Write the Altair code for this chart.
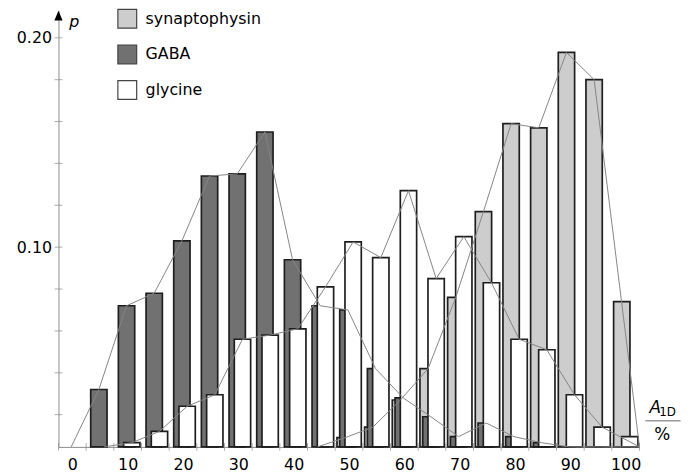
import altair as alt
import pandas as pd

# ---------------- data ----------------
BINS = list(range(5, 101, 5))
SERIES = ["synaptophysin", "GABA", "glycine"]
SYN = [0, 0, 0, 0, 0, 0, 0, 0, 0, 0.009, 0.014, 0.027, 0.042, 0.076, 0.117,
       0.159, 0.157, 0.193, 0.180, 0.074]
GABA = [0.032, 0.072, 0.078, 0.103, 0.134, 0.135, 0.155, 0.094, 0.072, 0.070,
        0.042, 0.028, 0.019, 0.0095, 0.016, 0.0095, 0.0066, 0, 0, 0]
GLY = [0, 0.0066, 0.012, 0.024, 0.0295, 0.056, 0.058, 0.061, 0.081, 0.1025,
       0.095, 0.127, 0.085, 0.105, 0.083, 0.056, 0.051, 0.0295, 0.014, 0.0095]
LINE_START = {"synaptophysin": 45, "GABA": 0, "glycine": 5}
LINE_LAST = 95
LINE_END_X = 102.5
X_LABELS = list(range(0, 101, 10))
Y_LABELS = [0.10, 0.20]
X_TICKS = [-2.5 + 5 * i for i in range(22)]
Y_TICKS = [0.02 * i for i in range(1, 11)]

# ---------------- layout / style constants ----------------
OFFSET = {"synaptophysin": -0.7, "GABA": -0.2, "glycine": 0.75}
BAR_W = 2.95
BASE = 0.0046          # value at which the x axis sits
Y_MAX = 0.2131
X_MIN, X_MAX = -2.5, 102.5
FILLS = ["#cdcdcd", "#717171", "#ffffff"]
FONT = "DejaVu Sans"
AXIS_COL = "#8a8a8a"

values = {"synaptophysin": SYN, "GABA": GABA, "glycine": GLY}

bar_rows = []
for rank, s in enumerate(SERIES):
    for b, v in zip(BINS, values[s]):
        if v > 0:
            c = b + OFFSET[s]
            bar_rows.append({"series": s, "rank": rank, "value": v,
                             "x1": c - BAR_W / 2, "x2": c + BAR_W / 2})
bars_df = pd.DataFrame(bar_rows)

line_rows = []
for s in SERIES:
    full = dict(zip([0] + BINS, [0] + values[s]))
    for b in range(LINE_START[s], LINE_LAST + 1, 5):
        v = full[b]
        line_rows.append({"series": s, "lx": b + OFFSET[s], "ly": v if v > 0 else BASE})
    line_rows.append({"series": s, "lx": LINE_END_X, "ly": BASE})
lines_df = pd.DataFrame(line_rows)

xs = alt.Scale(domain=[X_MIN, X_MAX], nice=False, zero=False)
ys = alt.Scale(domain=[BASE, Y_MAX], nice=False, zero=False)
xaxis = alt.Axis(values=X_LABELS, title=None, labelPadding=10, tickSize=0,
                 domainColor=AXIS_COL, labelFontSize=16, labelFont=FONT,
                 labelColor="black", grid=False, labelFlush=False)
yaxis = alt.Axis(values=Y_LABELS, format=".2f", title=None, labelPadding=7,
                 tickSize=0, domainColor=AXIS_COL, labelFontSize=16,
                 labelFont=FONT, labelColor="black", grid=False)

bars = alt.Chart(bars_df).mark_bar(stroke="#1e1e1e", strokeWidth=1.7, opacity=1).encode(
    x=alt.X("x1:Q", scale=xs, axis=xaxis),
    x2="x2:Q",
    y=alt.Y("value:Q", scale=ys, axis=yaxis, stack=None),
    y2=alt.datum(BASE),
    color=alt.Color("series:N", scale=alt.Scale(domain=SERIES, range=FILLS),
                    legend=alt.Legend(title=None, orient="none", legendX=59, legendY=-2,
                                      symbolType="square", symbolSize=361,
                                      symbolStrokeColor="#444", symbolStrokeWidth=1.2,
                                      labelFontSize=16, labelFont=FONT, labelOffset=8,
                                      rowPadding=11, padding=0, symbolOpacity=1)),
    order=alt.Order("rank:Q"),
)

lines = alt.Chart(lines_df).mark_line(color="#858585", strokeWidth=1).encode(
    x=alt.X("lx:Q", scale=xs, axis=xaxis),
    y=alt.Y("ly:Q", scale=ys, axis=yaxis),
    detail="series:N",
    order="lx:Q",
)

xt = alt.Chart(pd.DataFrame({"t": X_TICKS})).mark_tick(
    orient="vertical", size=8, thickness=1, color=AXIS_COL).encode(
    x=alt.X("t:Q", scale=xs, axis=xaxis), y=alt.datum(BASE))
yt = alt.Chart(pd.DataFrame({"t": Y_TICKS})).mark_tick(
    orient="horizontal", size=8, thickness=1, color=AXIS_COL).encode(
    y=alt.Y("t:Q", scale=ys, axis=yaxis), x=alt.datum(X_MIN))

arrow = alt.Chart(pd.DataFrame({"a": [0]})).mark_point(
    shape="M0,-1L0.83,1L-0.83,1Z", size=100, filled=True, color="black", opacity=1).encode(
    x=alt.datum(X_MIN), y=alt.datum(Y_MAX - 0.0025))

def label(txt, x, y, size=16, italic=False, align="left"):
    return alt.Chart(pd.DataFrame({"a": [0]})).mark_text(
        text=txt, font=FONT, fontSize=size, fontStyle="italic" if italic else "normal",
        align=align, baseline="alphabetic", color="black").encode(
        x=alt.value(x), y=alt.value(y))

p_lab = label("p", 11, 17, 16, italic=True)
a_lab = label("A", 597, 407, 17, italic=True)
sub_lab = label("1D", 607, 410, 12)
pct_lab = label("%", 610, 434, 17, align="center")
frac = alt.Chart(pd.DataFrame({"a": [0]})).mark_rule(color="#666", strokeWidth=1).encode(
    x=alt.value(593), x2=alt.value(628.5), y=alt.value(414.7))

chart = alt.layer(bars, lines, xt, yt, arrow, p_lab, a_lab, sub_lab, pct_lab, frac).properties(
    width=587, height=441,
    padding={"left": 51, "top": 0, "right": 48, "bottom": 26},
    autosize=alt.AutoSizeParams(type="none"),
).configure_view(stroke=None).configure_axis(grid=False)

chart.save("out.html", embed_options={"renderer": "svg", "actions": False})
